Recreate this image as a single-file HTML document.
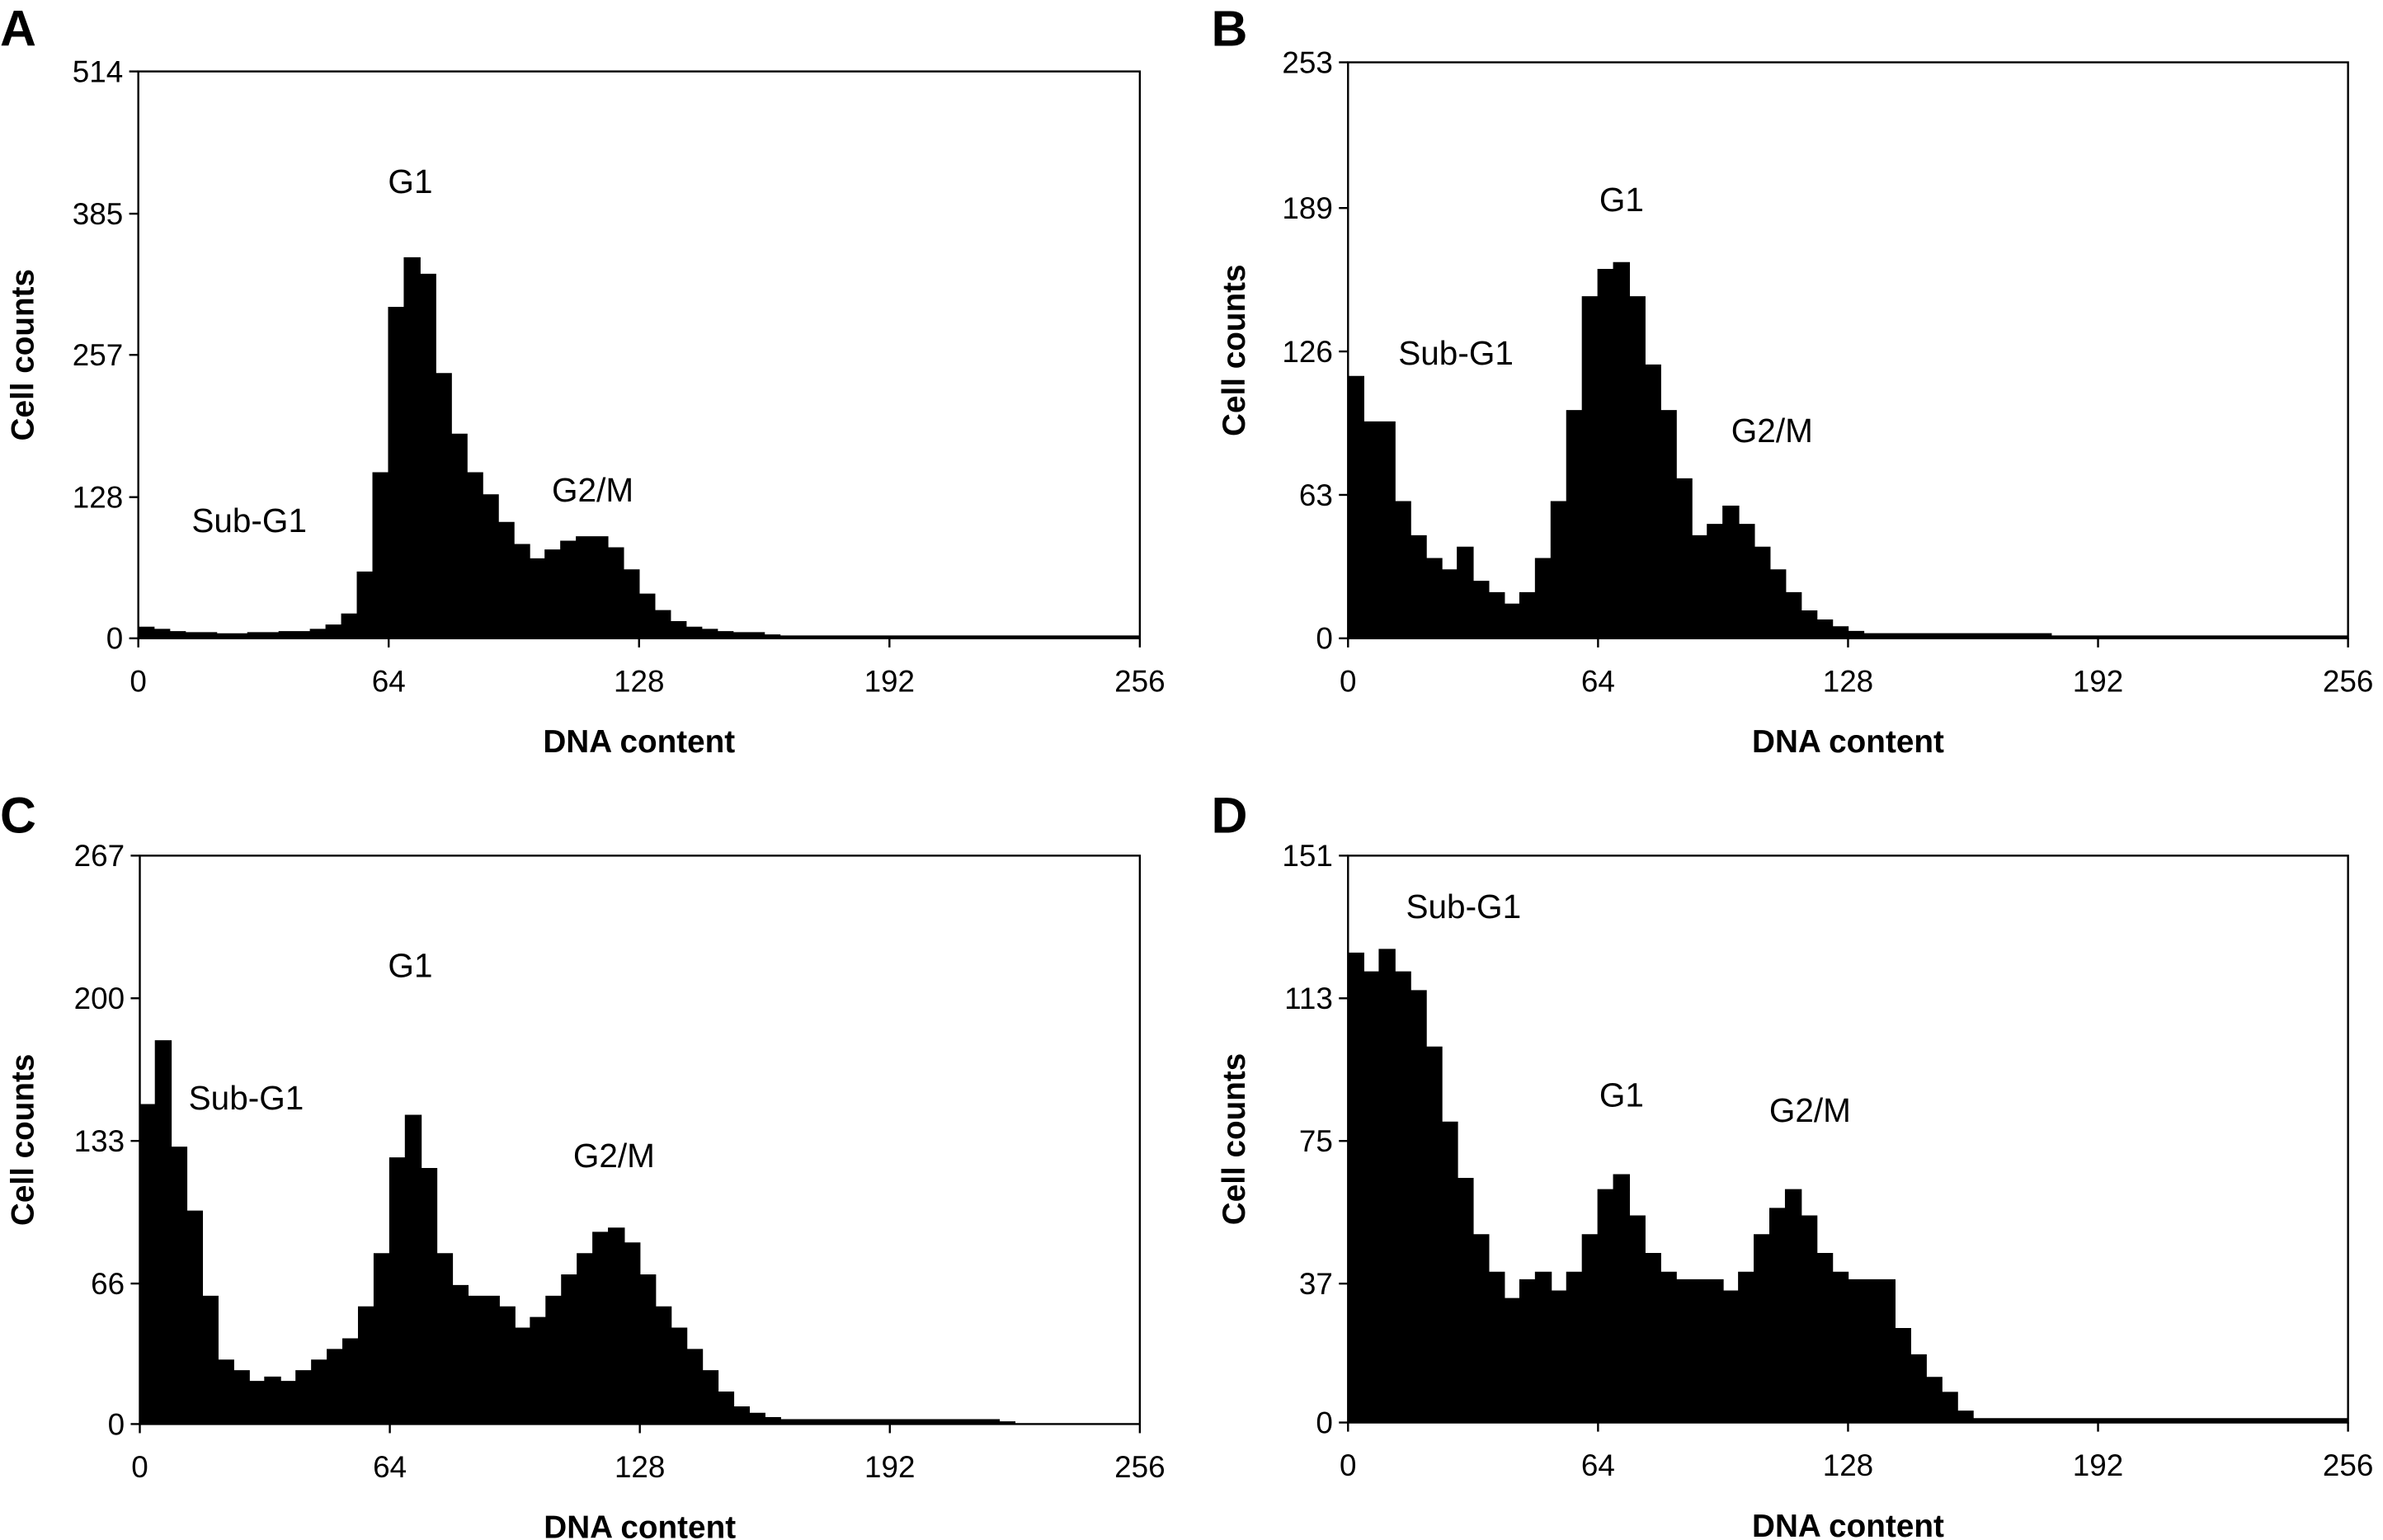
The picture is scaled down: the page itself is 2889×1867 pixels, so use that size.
<!DOCTYPE html>
<html><head><meta charset="utf-8"><style>
html,body{margin:0;padding:0;background:#fff}
svg{display:block}
text{font-family:"Liberation Sans",sans-serif;fill:#000}
</style></head><body>
<svg id="fig" width="2889" height="1867" viewBox="0 0 1568 1013.3" preserveAspectRatio="none" xmlns="http://www.w3.org/2000/svg"></svg>
<script>
// Histogram data: counts per 4-unit DNA-content bin (0..252)
const binStart = [0,4,8,12,16,20,24,28,32,36,40,44,48,52,56,60,64,68,72,76,80,84,88,92,96,100,104,108,112,116,120,124,128,132,136,140,144,148,152,156,160,164,168,172,176,180,184,188,192,196,200,204,208,212,216,220,224,228,232,236,240,244,248,252];
const countsA = [10,8,6,5,5,4,4,5,5,6,6,8,12,22,60,150,300,345,330,240,185,150,130,105,85,72,80,88,92,92,82,62,40,25,15,10,8,6,5,5,3,2,2,2,2,2,2,2,2,2,2,2,2,2,2,2,2,2,2,2,2,2,2,2];
const countsB = [115,95,95,60,45,35,30,40,25,20,15,20,35,60,100,150,162,165,150,120,100,70,45,50,58,50,40,30,20,12,8,5,3,2,2,2,2,2,2,2,2,2,2,2,2,1,1,1,1,1,1,1,1,1,1,1,1,1,1,1,1,1,1,1];
const countsC = [150,180,130,100,60,30,25,20,22,20,25,30,35,40,55,80,125,145,120,80,65,60,60,55,45,50,60,70,80,90,92,85,70,55,45,35,25,15,8,5,3,2,2,2,2,2,2,2,2,2,2,2,2,2,2,1,0,0,0,0,0,0,0,0];
const countsD = [125,120,126,120,115,100,80,65,50,40,33,38,40,35,40,50,62,66,55,45,40,38,38,38,35,40,50,57,62,55,45,40,38,38,38,25,18,12,8,3,1,1,1,1,1,1,1,1,1,1,1,1,1,1,1,1,1,1,1,1,1,1,1,1];
const yTicksA = [0,128,257,385,514];
const yTicksB = [0,63,126,189,253];
const yTicksC = [0,66,133,200,267];
const yTicksD = [0,37,75,113,151];
const xTicks = [0,64,128,192,256];

const NS="http://www.w3.org/2000/svg";
const svg=document.getElementById('fig');
function mk(tag,attrs,parent){const e=document.createElementNS(NS,tag);for(const k in attrs)e.setAttribute(k,attrs[k]);(parent||svg).appendChild(e);return e;}

const panels=[
 {id:'a',letter:'A',lx:0,ly:30,x0:91,x1:750,y0:47,y1:420,counts:countsA,ticks:yTicksA,
  notes:[['G1',270,127],['Sub-G1',164,350],['G2/M',390,330]]},
 {id:'b',letter:'B',lx:797,ly:30,x0:887,x1:1545,y0:41,y1:420,counts:countsB,ticks:yTicksB,
  notes:[['G1',1067,139],['Sub-G1',958,240],['G2/M',1166,291]]},
 {id:'c',letter:'C',lx:0,ly:548,x0:92,x1:750,y0:563,y1:937,counts:countsC,ticks:yTicksC,
  notes:[['G1',270,643],['Sub-G1',162,730],['G2/M',404,768]]},
 {id:'d',letter:'D',lx:797,ly:548,x0:887,x1:1545,y0:563,y1:936,counts:countsD,ticks:yTicksD,
  notes:[['Sub-G1',963,604],['G1',1067,728],['G2/M',1191,738]]}
];

panels.forEach(p=>{
  const g=mk('g',{});
  
  
  const ymax=p.ticks[p.ticks.length-1];
  const sx=v=>p.x0+(v/256)*(p.x1-p.x0);
  const sy=v=>p.y1-(v/ymax)*(p.y1-p.y0);
  // histogram area
  let d='M'+sx(0)+','+sy(0);
  p.counts.forEach((c,i)=>{
    const a=binStart[i], b=a+4;
    d+=' L'+sx(a)+','+sy(c)+' L'+sx(b)+','+sy(c);
  });
  d+=' L'+sx(256)+','+sy(0)+' Z';
  const h=mk('path',{d:d,fill:'#000',stroke:'#000','stroke-width':0.8},g);
  
  
  // frame
  const fr=mk('rect',{x:p.x0,y:p.y0,width:p.x1-p.x0,height:p.y1-p.y0,fill:'none',stroke:'#000','stroke-width':1.3},g);
  
  
  // y ticks
  p.ticks.forEach(t=>{
    mk('line',{x1:p.x0-6,x2:p.x0,y1:sy(t),y2:sy(t),stroke:'#000','stroke-width':1.3},g);
    const tx=mk('text',{x:p.x0-10,y:sy(t)+7,'text-anchor':'end','font-size':20},g);
    tx.textContent=t;
    
    
  });
  xTicks.forEach(t=>{
    mk('line',{x1:sx(t),x2:sx(t),y1:p.y1,y2:p.y1+6,stroke:'#000','stroke-width':1.3},g);
    const tx=mk('text',{x:sx(t),y:p.y1+35,'text-anchor':'middle','font-size':20},g);
    tx.textContent=t;
    
    
  });
  const xt=mk('text',{x:(p.x0+p.x1)/2,y:p.y1+75,'text-anchor':'middle','font-size':21,'font-weight':'bold'},g);
  xt.textContent='DNA content';
  
  
  const cy=(p.y0+p.y1)/2, cx=p.lx+22;
  const yt=mk('text',{x:cx,y:cy,'text-anchor':'middle','font-size':21,'font-weight':'bold',transform:'rotate(-90 '+cx+' '+cy+')'},g);
  yt.textContent='Cell counts';
  
  
  const lt=mk('text',{x:p.lx,y:p.ly,'font-size':33,'font-weight':'bold'},g);
  lt.textContent=p.letter;
  
  
  p.notes.forEach(n=>{
    const t=mk('text',{x:n[1],y:n[2],'text-anchor':'middle','font-size':22},g);
    t.textContent=n[0];
    
    
  });
});
</script>
</body></html>
